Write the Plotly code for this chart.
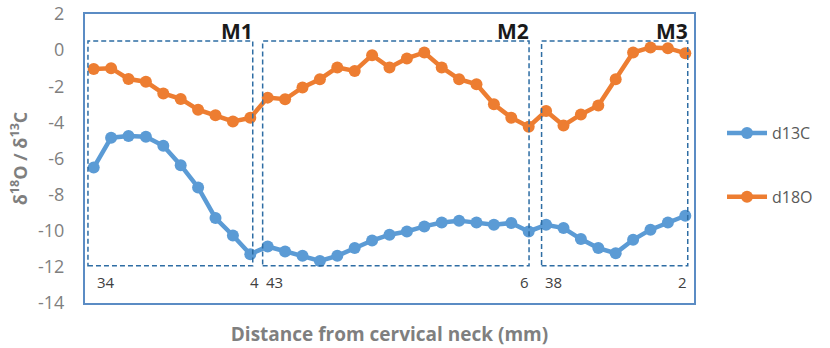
import plotly.graph_objects as go

# ---- data ----
positions = list(range(35))
d13C = [-6.5, -4.85, -4.76, -4.8, -5.3, -6.37, -7.6, -9.3, -10.26, -11.3,
        -10.87, -11.15, -11.39, -11.67, -11.39, -10.96, -10.54, -10.22, -10.04, -9.76,
        -9.54, -9.44, -9.54, -9.67, -9.57, -10.04,
        -9.67, -9.85, -10.46, -10.96, -11.24, -10.5, -9.94, -9.54, -9.17]
d18O = [-1.05, -1.0, -1.6, -1.75, -2.4, -2.7, -3.3, -3.6, -3.95, -3.75,
        -2.63, -2.72, -2.07, -1.61, -0.96, -1.15, -0.28, -0.96, -0.46, -0.13,
        -0.96, -1.61, -1.89, -3.0, -3.74, -4.24,
        -3.37, -4.17, -3.56, -3.06, -1.61, -0.13, 0.15, 0.11, -0.17]
series_names = ["d13C", "d18O"]
molar_names = ["M1", "M2", "M3"]
distance_labels = ["34", "4", "43", "6", "38", "2"]
y_ticks = list(range(-14, 3, 2))
y_ticktext = [str(v) for v in y_ticks]

BLUE = "#5B9BD5"
ORANGE = "#ED7D31"
FRAME = "#5B8CC4"
GRAY = "#7F7F7F"
FONT = "Open Sans"

fig = go.Figure()
for name, vals, col in zip(series_names, [d13C, d18O], [BLUE, ORANGE]):
    fig.add_trace(go.Scatter(
        x=positions, y=vals, name=name, mode="lines+markers",
        line=dict(color=col, width=4.5), marker=dict(color=col, size=12),
        legendgroup=name,
    ))

# dashed boxes for each molar
boxes = [(-0.33, 9.14), (9.71, 25.02), (25.74, 34.14)]
for (x0, x1), lab in zip(boxes, molar_names):
    fig.add_shape(type="rect", x0=x0, x1=x1, y0=-11.94, y1=0.5, xref="x", yref="y",
                  line=dict(color="#2E6DA4", width=1.5, dash="5px,3px"), fillcolor="rgba(0,0,0,0)")
    fig.add_annotation(x=x1, y=0.5, xref="x", yref="y", text=f"<b>{lab}</b>",
                       showarrow=False, xanchor="right", yanchor="bottom",
                       font=dict(family=FONT, size=21, color="#1a1a1a"), yshift=-6, xshift=2)

label_pos = [(0.05, "left"), (9.6, "right"), (9.8, "left"), (25.15, "right"), (25.8, "left"), (34.2, "right")]
for (xp, anc), txt in zip(label_pos, distance_labels):
    fig.add_annotation(x=xp, y=-12.83, xref="x", yref="y", text=txt, showarrow=False,
                       xanchor=anc, yanchor="middle",
                       font=dict(family=FONT, size=15, color="#404040"))

fig.update_layout(
    width=830, height=348,
    margin=dict(l=85, r=128, t=14, b=45),
    paper_bgcolor="white", plot_bgcolor="white",
    font=dict(family=FONT, color=GRAY),
    legend=dict(x=1.046, y=0.647, xanchor="left", yanchor="top",
                font=dict(family=FONT, size=16, color="#595959"),
                tracegroupgap=40, itemwidth=40),
    showlegend=True,
)
fig.update_xaxes(range=[-0.5, 34.5], showticklabels=False, showgrid=False, zeroline=False,
                 showline=True, mirror=True, linecolor=FRAME, linewidth=2, ticks="",
                 automargin=False,
                 title=dict(text="<b>Distance from cervical neck (mm)</b>",
                            font=dict(family=FONT, size=19, color=GRAY), standoff=24))
fig.update_yaxes(range=[-14, 2], tickvals=y_ticks, ticktext=y_ticktext, showgrid=False, zeroline=False,
                 showline=True, mirror=True, linecolor=FRAME, linewidth=2, ticks="",
                 ticklabelstandoff=15, automargin=False, ticklabeloverflow="allow",
                 tickfont=dict(family=FONT, size=18, color=GRAY),
                 title=dict(text="<b>δ<sup>18</sup>O / δ<sup>13</sup>C</b>",
                            font=dict(family=FONT, size=18, color=GRAY), standoff=6))

# remove the browser's default 8px body margin so the figure fills the window exactly
fig.write_html("out.html", config={"displayModeBar": False},
               post_script="document.body.style.margin='0';")
